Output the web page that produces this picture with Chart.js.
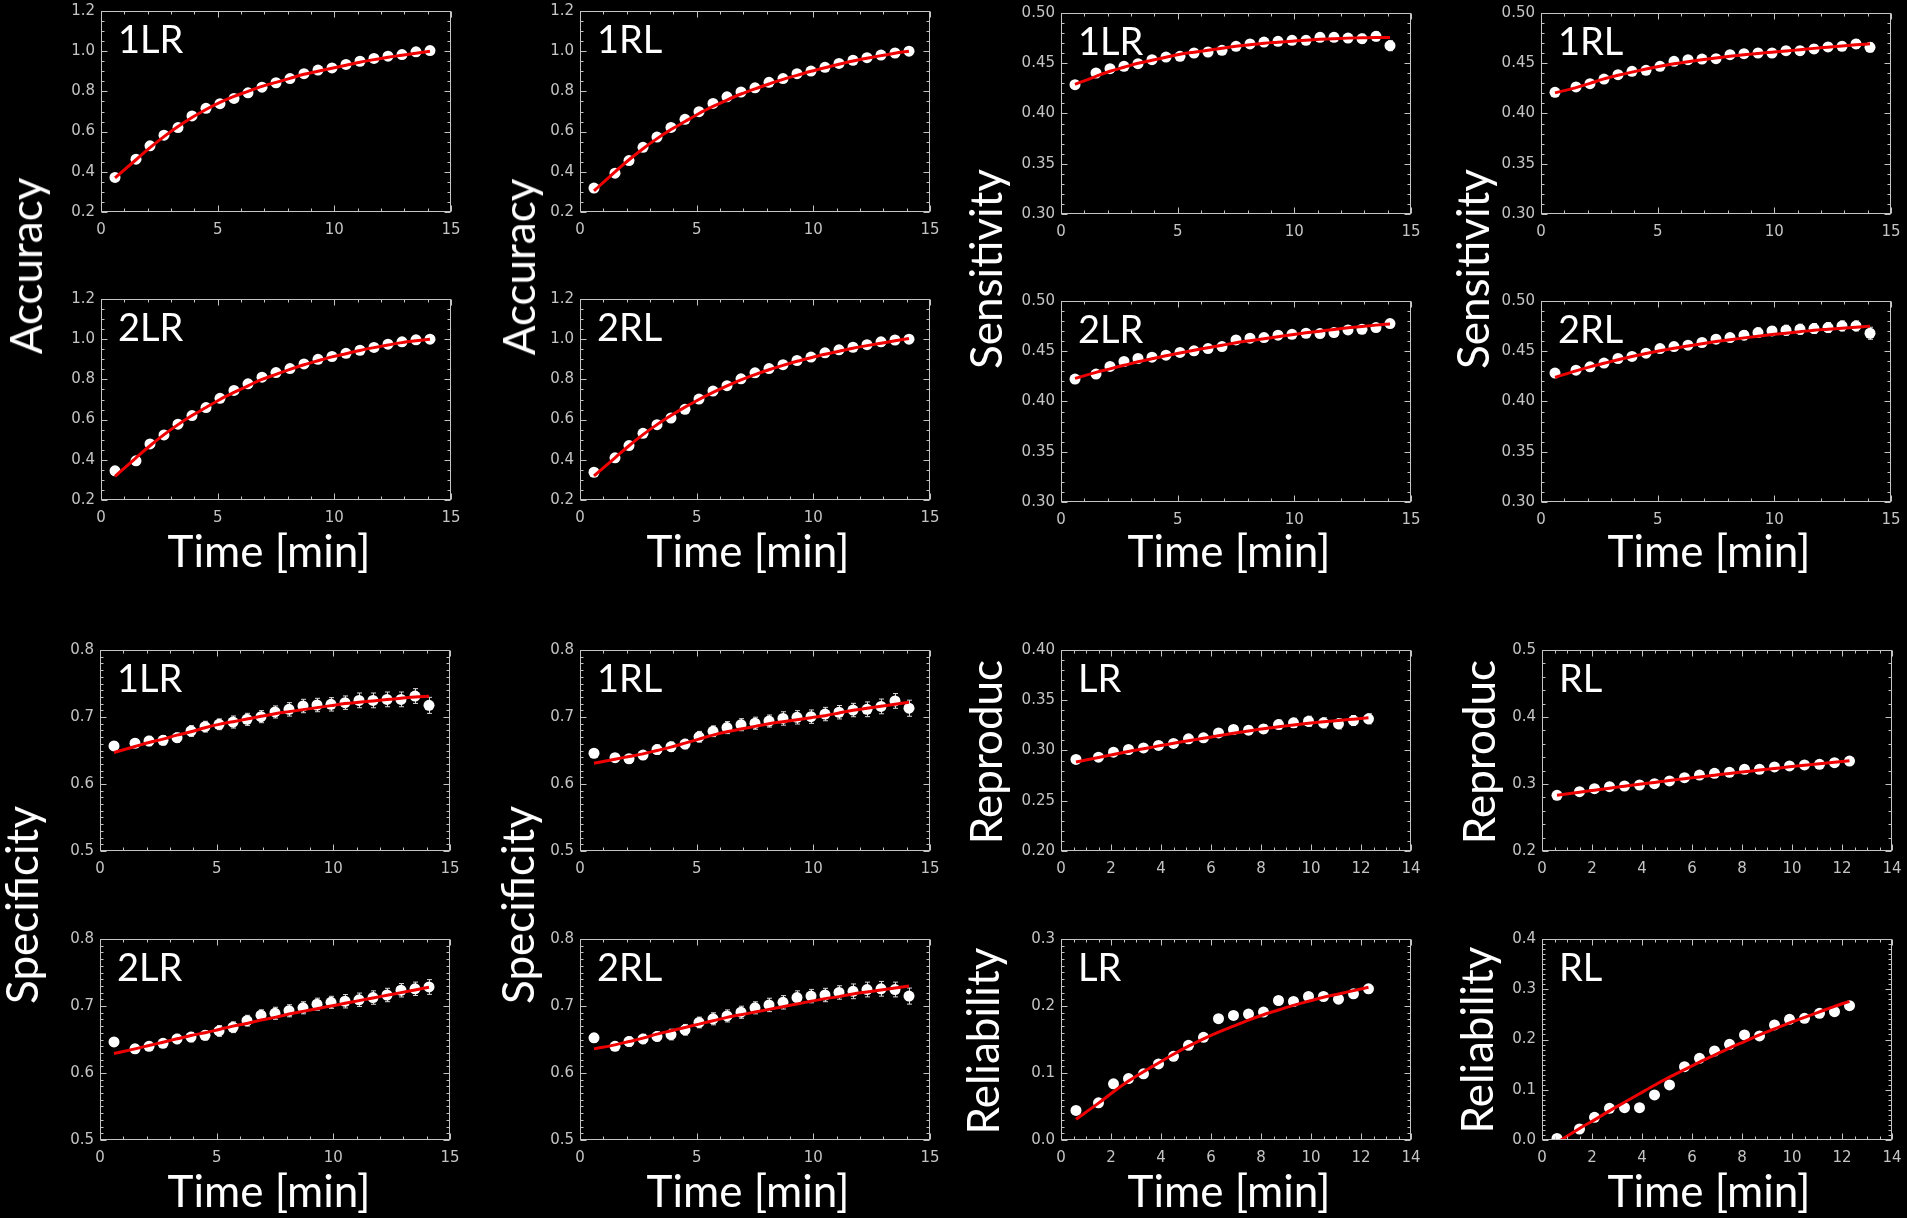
<!DOCTYPE html>
<html>
<head>
<meta charset="utf-8">
<title>Time courses</title>
<script src="https://cdn.jsdelivr.net/npm/chart.js@4.4.1/dist/chart.umd.min.js"></script>
<style>
  html, body { margin: 0; padding: 0; background: #000; }
  #stage { position: relative; width: 1907px; height: 1218px; background: #000; overflow: hidden; }
  #stage canvas { position: absolute; }
  .title { position: absolute; color: #fff; font-family: Lato, 'Open Sans', sans-serif; font-size: 44px; line-height: 1; white-space: nowrap; }
</style>
</head>
<body>
<div id="stage"></div>
<script>
// time points (minutes)
const time_15 = [0.6, 1.5, 2.1, 2.7, 3.3, 3.9, 4.5, 5.1, 5.7, 6.3, 6.9, 7.5, 8.1, 8.7, 9.3, 9.9, 10.5, 11.1, 11.7, 12.3, 12.9, 13.5, 14.1]
const time_14 = [0.6, 1.5, 2.1, 2.7, 3.3, 3.9, 4.5, 5.1, 5.7, 6.3, 6.9, 7.5, 8.1, 8.7, 9.3, 9.9, 10.5, 11.1, 11.7, 12.3]

// accuracy
const acc_1lr = [0.372, 0.463, 0.529, 0.582, 0.620, 0.678, 0.716, 0.739, 0.765, 0.793, 0.821, 0.843, 0.864, 0.888, 0.906, 0.917, 0.934, 0.950, 0.964, 0.975, 0.983, 0.997, 1.003]
const acc_1lr_fit = [0.37, 0.46, 0.52, 0.575, 0.625, 0.67, 0.71, 0.745, 0.775, 0.80, 0.825, 0.845, 0.865, 0.885, 0.90, 0.915, 0.93, 0.945, 0.958, 0.97, 0.98, 0.99, 1.0]
const acc_2lr = [0.345, 0.395, 0.479, 0.524, 0.577, 0.620, 0.660, 0.706, 0.745, 0.778, 0.811, 0.834, 0.854, 0.877, 0.900, 0.914, 0.930, 0.945, 0.959, 0.975, 0.987, 0.997, 1.0]
const acc_2lr_fit = [0.317, 0.41, 0.47, 0.525, 0.575, 0.62, 0.66, 0.70, 0.735, 0.768, 0.80, 0.825, 0.85, 0.873, 0.893, 0.912, 0.928, 0.944, 0.958, 0.971, 0.983, 0.992, 1.0]
const acc_1rl = [0.319, 0.393, 0.456, 0.522, 0.573, 0.621, 0.661, 0.699, 0.740, 0.773, 0.797, 0.818, 0.845, 0.864, 0.888, 0.901, 0.920, 0.939, 0.955, 0.968, 0.981, 0.991, 1.0]
const acc_1rl_fit = [0.305, 0.40, 0.46, 0.515, 0.565, 0.61, 0.65, 0.69, 0.725, 0.757, 0.787, 0.813, 0.837, 0.86, 0.88, 0.90, 0.918, 0.935, 0.951, 0.965, 0.978, 0.99, 1.0]
const acc_2rl = [0.338, 0.410, 0.471, 0.532, 0.575, 0.608, 0.651, 0.702, 0.742, 0.769, 0.803, 0.833, 0.854, 0.873, 0.894, 0.911, 0.932, 0.947, 0.960, 0.973, 0.987, 0.996, 1.0]
const acc_2rl_fit = [0.32, 0.41, 0.47, 0.525, 0.575, 0.62, 0.662, 0.70, 0.735, 0.768, 0.798, 0.824, 0.848, 0.87, 0.89, 0.908, 0.925, 0.94, 0.955, 0.968, 0.98, 0.992, 1.003]

// sensitivity
const sens_1lr = [0.4287, 0.4403, 0.4446, 0.4469, 0.4496, 0.4536, 0.4562, 0.4569, 0.4602, 0.4612, 0.4629, 0.4668, 0.4692, 0.4711, 0.4718, 0.4728, 0.4728, 0.4758, 0.4758, 0.4751, 0.4745, 0.4768, 0.4675]
const sens_1lr_fit = [0.429, 0.437, 0.442, 0.446, 0.450, 0.453, 0.456, 0.459, 0.461, 0.463, 0.465, 0.467, 0.4685, 0.470, 0.471, 0.472, 0.473, 0.4738, 0.4745, 0.475, 0.4753, 0.4755, 0.4755]
const sens_1lr_err = [0.002, 0.002, 0.002, 0.0025, 0.0025, 0.0025, 0.003, 0.003, 0.003, 0.003, 0.003, 0.0035, 0.0035, 0.0035, 0.0035, 0.004, 0.004, 0.004, 0.004, 0.004, 0.0045, 0.0045, 0.005]
const sens_2lr = [0.4223, 0.4273, 0.4349, 0.4398, 0.4428, 0.4441, 0.4461, 0.4488, 0.4504, 0.4527, 0.4547, 0.4613, 0.4630, 0.4636, 0.4660, 0.4669, 0.4679, 0.4676, 0.4686, 0.4712, 0.4719, 0.4736, 0.4775]
const sens_2lr_fit = [0.423, 0.429, 0.4325, 0.436, 0.4395, 0.4425, 0.4455, 0.4483, 0.451, 0.4535, 0.456, 0.4585, 0.4605, 0.4625, 0.4645, 0.4665, 0.4683, 0.470, 0.4717, 0.4733, 0.4747, 0.476, 0.4772]
const sens_2lr_err = [0.002, 0.002, 0.002, 0.002, 0.0025, 0.0025, 0.0025, 0.0025, 0.003, 0.003, 0.003, 0.003, 0.003, 0.003, 0.0035, 0.0035, 0.0035, 0.0035, 0.0035, 0.0035, 0.0035, 0.0035, 0.004]
const sens_1rl = [0.4211, 0.4264, 0.4297, 0.4343, 0.4386, 0.4420, 0.4430, 0.4469, 0.4519, 0.4536, 0.4542, 0.4546, 0.4585, 0.4595, 0.4602, 0.4602, 0.4625, 0.4625, 0.4642, 0.4662, 0.4668, 0.4692, 0.4658]
const sens_1rl_fit = [0.4205, 0.4258, 0.430, 0.4345, 0.438, 0.4412, 0.4442, 0.447, 0.4495, 0.4515, 0.4535, 0.4553, 0.457, 0.4585, 0.4598, 0.461, 0.4622, 0.4635, 0.4648, 0.466, 0.4672, 0.4683, 0.4693]
const sens_1rl_err = [0.002, 0.002, 0.002, 0.002, 0.0025, 0.0025, 0.0025, 0.003, 0.003, 0.003, 0.003, 0.003, 0.0035, 0.0035, 0.0035, 0.0035, 0.0035, 0.004, 0.004, 0.004, 0.004, 0.0045, 0.0045]
const sens_2rl = [0.4283, 0.4312, 0.4345, 0.4382, 0.4428, 0.4448, 0.4481, 0.4527, 0.4547, 0.4560, 0.4587, 0.4620, 0.4636, 0.4660, 0.4686, 0.4702, 0.4709, 0.4719, 0.4726, 0.4736, 0.4752, 0.4752, 0.4679]
const sens_2rl_fit = [0.424, 0.4305, 0.4345, 0.438, 0.4415, 0.4448, 0.4478, 0.4505, 0.453, 0.4553, 0.4575, 0.4596, 0.4615, 0.4633, 0.465, 0.4666, 0.468, 0.4695, 0.471, 0.472, 0.473, 0.474, 0.475]
const sens_2rl_err = [0.002, 0.002, 0.0025, 0.0025, 0.003, 0.003, 0.003, 0.0035, 0.0035, 0.0035, 0.004, 0.004, 0.004, 0.0045, 0.0045, 0.0045, 0.005, 0.005, 0.005, 0.005, 0.005, 0.005, 0.006]

// specificity
const spec_1lr = [0.6568, 0.6608, 0.6642, 0.6652, 0.6692, 0.6791, 0.6856, 0.6891, 0.6925, 0.6965, 0.7005, 0.7075, 0.7114, 0.7164, 0.7179, 0.7189, 0.7214, 0.7248, 0.7248, 0.7263, 0.7263, 0.7313, 0.7174]
const spec_1lr_fit = [0.647, 0.656, 0.662, 0.667, 0.673, 0.678, 0.684, 0.689, 0.693, 0.697, 0.701, 0.705, 0.708, 0.711, 0.714, 0.717, 0.720, 0.722, 0.724, 0.726, 0.728, 0.730, 0.731]
const spec_1lr_err = [0.006, 0.006, 0.007, 0.007, 0.007, 0.008, 0.008, 0.008, 0.009, 0.009, 0.009, 0.009, 0.010, 0.010, 0.010, 0.010, 0.010, 0.011, 0.011, 0.011, 0.011, 0.011, 0.012]
const spec_2lr = [0.6464, 0.6361, 0.6399, 0.6443, 0.6508, 0.6536, 0.6563, 0.6628, 0.6683, 0.6781, 0.6863, 0.6891, 0.6929, 0.6973, 0.7027, 0.7055, 0.7071, 0.7093, 0.7126, 0.7164, 0.7235, 0.7257, 0.7284]
const spec_2lr_fit = [0.629, 0.636, 0.641, 0.646, 0.651, 0.656, 0.660, 0.665, 0.670, 0.674, 0.679, 0.683, 0.688, 0.692, 0.696, 0.700, 0.704, 0.708, 0.712, 0.716, 0.720, 0.724, 0.728]
const spec_2lr_err = [0.005, 0.006, 0.006, 0.006, 0.007, 0.007, 0.007, 0.008, 0.008, 0.008, 0.008, 0.009, 0.009, 0.009, 0.009, 0.009, 0.010, 0.010, 0.010, 0.010, 0.010, 0.010, 0.011]
const spec_1rl = [0.6459, 0.6393, 0.6377, 0.6432, 0.6514, 0.6557, 0.6596, 0.6705, 0.6787, 0.6842, 0.6885, 0.6907, 0.6940, 0.6978, 0.6995, 0.7005, 0.7044, 0.7071, 0.7104, 0.7115, 0.7158, 0.7240, 0.7131]
const spec_1rl_fit = [0.631, 0.637, 0.641, 0.645, 0.650, 0.655, 0.661, 0.667, 0.673, 0.678, 0.682, 0.686, 0.690, 0.693, 0.696, 0.699, 0.702, 0.706, 0.710, 0.713, 0.716, 0.719, 0.722]
const spec_1rl_err = [0.005, 0.006, 0.006, 0.006, 0.007, 0.007, 0.007, 0.008, 0.008, 0.009, 0.009, 0.009, 0.009, 0.010, 0.010, 0.010, 0.010, 0.010, 0.010, 0.011, 0.011, 0.011, 0.012]
const spec_2rl = [0.6525, 0.6399, 0.6470, 0.6508, 0.6546, 0.6574, 0.6645, 0.6754, 0.6809, 0.6852, 0.6907, 0.6973, 0.7016, 0.7055, 0.7126, 0.7148, 0.7164, 0.7202, 0.7219, 0.7246, 0.7257, 0.7246, 0.7148]
const spec_2rl_fit = [0.636, 0.642, 0.647, 0.652, 0.658, 0.663, 0.668, 0.673, 0.678, 0.683, 0.687, 0.691, 0.695, 0.699, 0.703, 0.707, 0.711, 0.714, 0.718, 0.721, 0.724, 0.727, 0.730]
const spec_2rl_err = [0.006, 0.006, 0.007, 0.007, 0.007, 0.008, 0.008, 0.008, 0.009, 0.009, 0.009, 0.009, 0.010, 0.010, 0.010, 0.010, 0.010, 0.010, 0.011, 0.011, 0.011, 0.011, 0.012]

// reproducibility
const repro_lr = [0.2911, 0.2934, 0.2983, 0.3010, 0.3026, 0.3050, 0.3070, 0.3116, 0.3126, 0.3175, 0.3209, 0.3202, 0.3215, 0.3258, 0.3275, 0.3291, 0.3275, 0.3265, 0.3298, 0.3315]
const repro_lr_fit = [0.2885, 0.293, 0.296, 0.299, 0.3017, 0.3046, 0.3072, 0.3097, 0.3122, 0.3147, 0.3171, 0.3194, 0.3217, 0.3236, 0.3254, 0.327, 0.3285, 0.3299, 0.3312, 0.3325]
const repro_lr_err = [0.002, 0.002, 0.002, 0.002, 0.0025, 0.0025, 0.003, 0.003, 0.003, 0.0035, 0.0035, 0.004, 0.004, 0.0045, 0.0045, 0.005, 0.005, 0.005, 0.005, 0.005]
const repro_rl = [0.2831, 0.2886, 0.2930, 0.2960, 0.2970, 0.2985, 0.3005, 0.3045, 0.3095, 0.3134, 0.3159, 0.3174, 0.3219, 0.3219, 0.3254, 0.3269, 0.3284, 0.3294, 0.3318, 0.3343]
const repro_rl_fit = [0.2832, 0.2878, 0.2908, 0.2938, 0.2967, 0.2996, 0.3024, 0.3052, 0.3079, 0.3106, 0.3132, 0.3158, 0.3183, 0.3208, 0.3232, 0.3256, 0.3279, 0.3302, 0.3324, 0.3346]
const repro_rl_err = [0.002, 0.002, 0.002, 0.002, 0.002, 0.002, 0.0025, 0.0025, 0.0025, 0.0025, 0.0025, 0.003, 0.003, 0.003, 0.003, 0.003, 0.003, 0.003, 0.003, 0.003]

// reliability
const rel_lr = [0.0441, 0.0555, 0.0838, 0.0917, 0.0987, 0.1135, 0.1249, 0.1413, 0.1532, 0.1810, 0.1859, 0.1879, 0.1909, 0.2082, 0.2067, 0.2142, 0.2142, 0.2102, 0.2181, 0.2256]
const rel_lr_fit = [0.031, 0.055, 0.072, 0.088, 0.102, 0.115, 0.128, 0.140, 0.151, 0.161, 0.170, 0.179, 0.187, 0.194, 0.201, 0.207, 0.213, 0.218, 0.223, 0.228]
const rel_rl = [0.003, 0.0219, 0.0451, 0.0630, 0.0643, 0.0643, 0.0896, 0.1095, 0.1459, 0.1625, 0.1771, 0.1904, 0.2090, 0.2070, 0.2289, 0.2401, 0.2421, 0.2521, 0.2554, 0.2673]
const rel_rl_fit = [-0.005, 0.023, 0.040, 0.058, 0.075, 0.092, 0.109, 0.125, 0.140, 0.155, 0.169, 0.183, 0.196, 0.209, 0.221, 0.233, 0.244, 0.255, 0.266, 0.276]

// axis setups
const axis_time_15 = { max: 15, step: 5, minor: 1 }
const axis_time_14 = { max: 14, step: 2, minor: 0.5 }
const axis_acc = { min: 0.2, max: 1.2, step: 0.2, minor: 0.05, dec: 1 }
const axis_sens = { min: 0.3, max: 0.5, step: 0.05, minor: 0.01, dec: 2 }
const axis_spec = { min: 0.5, max: 0.8, step: 0.1, minor: 0.01, dec: 1 }
const axis_repro_lr = { min: 0.2, max: 0.4, step: 0.05, minor: 0.01, dec: 2 }
const axis_repro_rl = { min: 0.2, max: 0.5, step: 0.1, minor: 0.02, dec: 1 }
const axis_rel_lr = { min: 0.0, max: 0.3, step: 0.1, minor: 0.01, dec: 1 }
const axis_rel_rl = { min: 0.0, max: 0.4, step: 0.1, minor: 0.01, dec: 1 }

const PLOT_W = 350
const PLOT_H = 201
const AXIS_W = 80
const AXIS_H = 44
const PAD_T = 14
const PAD_R = 26
const TICK_COLOR = '#c4c4c4'
const TICK_FONT = { family: "'DejaVu Sans', sans-serif", size: 15, weight: 'normal' }

const panels = [
  { label: '1LR', left: 101, top: 11, time: time_15, values: acc_1lr, fit: acc_1lr_fit, err: null, xa: axis_time_15, ya: axis_acc },
  { label: '2LR', left: 101, top: 299, time: time_15, values: acc_2lr, fit: acc_2lr_fit, err: null, xa: axis_time_15, ya: axis_acc },
  { label: '1RL', left: 580, top: 11, time: time_15, values: acc_1rl, fit: acc_1rl_fit, err: null, xa: axis_time_15, ya: axis_acc },
  { label: '2RL', left: 580, top: 299, time: time_15, values: acc_2rl, fit: acc_2rl_fit, err: null, xa: axis_time_15, ya: axis_acc },
  { label: '1LR', left: 1061, top: 13, time: time_15, values: sens_1lr, fit: sens_1lr_fit, err: sens_1lr_err, xa: axis_time_15, ya: axis_sens },
  { label: '2LR', left: 1061, top: 301, time: time_15, values: sens_2lr, fit: sens_2lr_fit, err: sens_2lr_err, xa: axis_time_15, ya: axis_sens },
  { label: '1RL', left: 1541, top: 13, time: time_15, values: sens_1rl, fit: sens_1rl_fit, err: sens_1rl_err, xa: axis_time_15, ya: axis_sens },
  { label: '2RL', left: 1541, top: 301, time: time_15, values: sens_2rl, fit: sens_2rl_fit, err: sens_2rl_err, xa: axis_time_15, ya: axis_sens },
  { label: '1LR', left: 100, top: 650, time: time_15, values: spec_1lr, fit: spec_1lr_fit, err: spec_1lr_err, xa: axis_time_15, ya: axis_spec },
  { label: '2LR', left: 100, top: 939, time: time_15, values: spec_2lr, fit: spec_2lr_fit, err: spec_2lr_err, xa: axis_time_15, ya: axis_spec },
  { label: '1RL', left: 580, top: 650, time: time_15, values: spec_1rl, fit: spec_1rl_fit, err: spec_1rl_err, xa: axis_time_15, ya: axis_spec },
  { label: '2RL', left: 580, top: 939, time: time_15, values: spec_2rl, fit: spec_2rl_fit, err: spec_2rl_err, xa: axis_time_15, ya: axis_spec },
  { label: 'LR', left: 1061, top: 650, time: time_14, values: repro_lr, fit: repro_lr_fit, err: repro_lr_err, xa: axis_time_14, ya: axis_repro_lr },
  { label: 'LR', left: 1061, top: 939, time: time_14, values: rel_lr, fit: rel_lr_fit, err: null, xa: axis_time_14, ya: axis_rel_lr },
  { label: 'RL', left: 1542, top: 650, time: time_14, values: repro_rl, fit: repro_rl_fit, err: repro_rl_err, xa: axis_time_14, ya: axis_repro_rl },
  { label: 'RL', left: 1542, top: 939, time: time_14, values: rel_rl, fit: rel_rl_fit, err: null, xa: axis_time_14, ya: axis_rel_rl }
]

// rotated axis titles: x of the text baseline, y of its centre
const y_titles = [
  { text: 'Accuracy', base: 42, cy: 266 },
  { text: 'Accuracy', base: 535, cy: 267 },
  { text: 'Sensitivity', base: 1002, cy: 269 },
  { text: 'Sensitivity', base: 1489, cy: 269 },
  { text: 'Specificity', base: 38, cy: 905 },
  { text: 'Specificity', base: 534, cy: 905 },
  { text: 'Reproduc', base: 1002, cy: 752 },
  { text: 'Reproduc', base: 1495, cy: 752 },
  { text: 'Reliability', base: 999, cy: 1041 },
  { text: 'Reliability', base: 1493, cy: 1040 }
]
const x_title_rows = [567, 1207]
const x_title_cols = [101, 580, 1061, 1541]

// IDL style box: inward major/minor ticks on all four sides, error bars, panel tag
const idl_frame = {
  id: 'idlFrame',
  beforeDatasetsDraw(chart, args, opts) {
    if (!opts.err) return
    const { ctx, scales: { x, y } } = chart
    const pts = chart.data.datasets[1].data
    ctx.save()
    ctx.strokeStyle = '#d8d8d8'
    ctx.lineWidth = 1
    pts.forEach((p, i) => {
      const px = Math.round(x.getPixelForValue(p.x)) + 0.5
      const y1 = y.getPixelForValue(p.y + opts.err[i])
      const y2 = y.getPixelForValue(p.y - opts.err[i])
      ctx.beginPath()
      ctx.moveTo(px, y1); ctx.lineTo(px, y2)
      ctx.moveTo(px - 2.5, y1); ctx.lineTo(px + 2.5, y1)
      ctx.moveTo(px - 2.5, y2); ctx.lineTo(px + 2.5, y2)
      ctx.stroke()
    })
    ctx.restore()
  },
  afterDraw(chart, args, opts) {
    const { ctx, chartArea: a, scales: { x, y } } = chart
    const L = a.left + 0.5, R = a.right - 0.5, T = a.top + 0.5, B = a.bottom - 0.5
    ctx.save()
    ctx.strokeStyle = TICK_COLOR
    ctx.lineWidth = 1
    ctx.strokeRect(L, T, R - L, B - T)
    ctx.beginPath()
    const xmin = x.min, ymin = y.min
    const nx = Math.round((x.max - xmin) / opts.xMinor)
    for (let k = 0; k <= nx; k++) {
      const v = xmin + k * opts.xMinor
      const major = Math.abs(v / opts.xStep - Math.round(v / opts.xStep)) < 1e-6
      const len = major ? 6 : 3
      const px = Math.round(x.getPixelForValue(v)) + 0.5
      ctx.moveTo(px, B); ctx.lineTo(px, B - len)
      ctx.moveTo(px, T); ctx.lineTo(px, T + len)
    }
    const ny = Math.round((y.max - ymin) / opts.yMinor)
    for (let k = 0; k <= ny; k++) {
      const v = ymin + k * opts.yMinor
      const major = Math.abs(v / opts.yStep - Math.round(v / opts.yStep)) < 1e-6
      const len = major ? 6 : 3
      const py = Math.round(y.getPixelForValue(v)) + 0.5
      ctx.moveTo(L, py); ctx.lineTo(L + len, py)
      ctx.moveTo(R, py); ctx.lineTo(R - len, py)
    }
    ctx.stroke()
    ctx.fillStyle = '#fff'
    ctx.font = "38px Lato, 'Open Sans', sans-serif"
    ctx.textBaseline = 'alphabetic'
    ctx.fillText(opts.label, a.left + 17, a.top + 42)
    ctx.restore()
  }
}

const stage = document.getElementById('stage')

function make_panel(p) {
  const canvas = document.createElement('canvas')
  const w = PLOT_W + AXIS_W + PAD_R
  const h = PLOT_H + PAD_T + AXIS_H
  canvas.width = w
  canvas.height = h
  canvas.style.left = (p.left - AXIS_W) + 'px'
  canvas.style.top = (p.top - PAD_T) + 'px'
  canvas.style.width = w + 'px'
  canvas.style.height = h + 'px'
  stage.appendChild(canvas)

  const points = p.time.map((t, i) => ({ x: t, y: p.values[i] }))
  const fit_line = p.time.map((t, i) => ({ x: t, y: p.fit[i] }))

  new Chart(canvas, {
    type: 'scatter',
    data: {
      datasets: [
        {
          type: 'line',
          data: fit_line,
          borderColor: 'rgb(238, 0, 0)',
          borderWidth: 3,
          pointRadius: 0,
          cubicInterpolationMode: 'monotone',
          fill: false
        },
        {
          data: points,
          backgroundColor: '#ffffff',
          borderWidth: 0,
          pointRadius: 5.5
        }
      ]
    },
    options: {
      responsive: false,
      animation: false,
      events: [],
      layout: { padding: { left: 0, top: PAD_T, right: PAD_R, bottom: 0 } },
      plugins: {
        legend: { display: false },
        tooltip: { enabled: false },
        idlFrame: {
          label: p.label,
          err: p.err,
          xStep: p.xa.step, xMinor: p.xa.minor,
          yStep: p.ya.step, yMinor: p.ya.minor
        }
      },
      scales: {
        x: {
          type: 'linear',
          min: 0,
          max: p.xa.max,
          grid: { display: false, drawTicks: false },
          border: { display: false },
          ticks: {
            stepSize: p.xa.step,
            color: TICK_COLOR,
            font: TICK_FONT,
            padding: 9,
            maxRotation: 0,
            autoSkip: false,
            callback: v => String(v)
          },
          afterFit: s => { s.height = AXIS_H; s.paddingLeft = 0; s.paddingRight = 0 }
        },
        y: {
          type: 'linear',
          min: p.ya.min,
          max: p.ya.max,
          grid: { display: false, drawTicks: false },
          border: { display: false },
          ticks: {
            stepSize: p.ya.step,
            color: TICK_COLOR,
            font: TICK_FONT,
            padding: 6,
            autoSkip: false,
            callback: v => Number(v).toFixed(p.ya.dec)
          },
          afterFit: s => { s.width = AXIS_W; s.paddingTop = 0; s.paddingBottom = 0 }
        }
      }
    },
    plugins: [idl_frame]
  })
}

panels.forEach(make_panel)

// big axis titles
const TITLE_SIZE = 44
y_titles.forEach(t => {
  const d = document.createElement('div')
  d.className = 'title'
  d.textContent = t.text
  d.style.left = (t.base - 0.387 * TITLE_SIZE) + 'px'
  d.style.top = t.cy + 'px'
  d.style.transform = 'translate(-50%, -50%) rotate(-90deg)'
  stage.appendChild(d)
})

x_title_rows.forEach(base => {
  x_title_cols.forEach(left => {
    const d = document.createElement('div')
    d.className = 'title'
    d.textContent = 'Time [min]'
    d.style.left = (left + PLOT_W / 2 - 7) + 'px'
    d.style.top = (base - 0.887 * TITLE_SIZE) + 'px'
    d.style.transform = 'translateX(-50%)'
    stage.appendChild(d)
  })
})
</script>
</body>
</html>
